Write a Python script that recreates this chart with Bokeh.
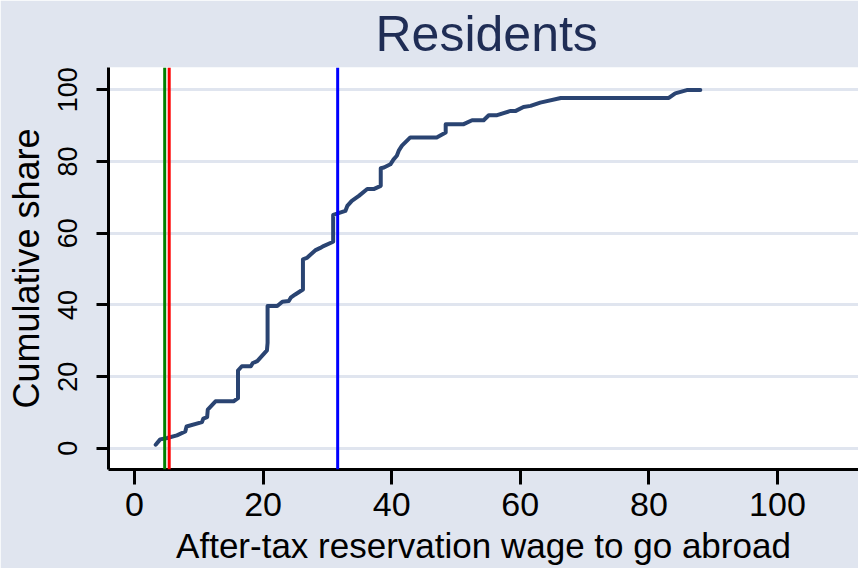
from bokeh.plotting import figure
from bokeh.models import Range1d, FixedTicker, Span, Title
from bokeh.embed import file_html
from bokeh.resources import INLINE

# Cumulative distribution
wage = [3.3, 4.0, 5.1, 6.6, 7.9, 8.1, 10.5, 10.7, 11.3, 11.4, 12.6, 15.4, 16.1, 16.1,
        16.7, 18.1, 18.4, 19.1, 20.6, 20.7, 20.7, 22.2, 23.0, 24.0, 24.3, 25.0, 26.2,
        26.2, 26.8, 28.1, 28.9, 29.4, 30.9, 30.9, 32.8, 33.1, 33.8, 34.9, 36.2, 37.2,
        38.3, 38.3, 38.8, 39.8, 40.3, 40.8, 41.1, 41.6, 42.9, 47.0, 48.4, 48.4, 51.2,
        52.5, 54.3, 55.1, 56.4, 58.5, 59.3, 60.5, 61.6, 63.1, 66.3, 83.1, 84.1, 85.9, 88.0]
share = [1.0, 2.5, 2.9, 3.6, 4.7, 6.1, 7.3, 8.3, 8.7, 10.8, 13.1, 13.1, 14.0, 21.7,
         22.9, 22.9, 23.8, 24.3, 27.3, 29.4, 39.7, 39.7, 40.9, 41.1, 42.0, 42.9, 44.3,
         52.7, 53.1, 55.2, 55.9, 56.4, 57.6, 65.1, 66.2, 67.6, 69.0, 70.4, 72.3, 72.3,
         73.2, 78.1, 78.3, 79.2, 80.6, 81.6, 83.0, 84.4, 86.7, 86.7, 88.1, 90.4, 90.4,
         91.5, 91.5, 92.9, 92.9, 94.1, 94.1, 95.2, 95.5, 96.4, 97.7, 97.7, 99.0, 99.9, 99.9]

ref_values = [4.7, 5.4, 31.6]
ref_colors = ["#008000", "#ff0000", "#0000ff"]

x_ticks = [0, 20, 40, 60, 80, 100]
y_ticks = [0, 20, 40, 60, 80, 100]

BG = "#e0e5ef"
FONT = "Liberation Sans"

p = figure(width=858, height=568, output_backend="svg", toolbar_location=None,
           x_range=Range1d(-4.04, 112.6), y_range=Range1d(-5.9, 106.2),
           min_border_left=108, min_border_right=0, min_border_top=67, min_border_bottom=99)

p.background_fill_color = "white"
p.border_fill_color = BG
p.outline_line_color = None

p.add_layout(Title(text="Residents", align="left", vertical_align="top", text_font=FONT,
                   text_font_size="50px", text_font_style="normal", text_color="#1f2d55",
                   standoff=8, offset=267), "above")

for v, c in zip(ref_values, ref_colors):
    p.add_layout(Span(location=v, dimension="height", line_color=c, line_width=3))

p.line(wage, share, line_color="#2a4472", line_width=4, line_join="round", line_cap="round")

p.xgrid.visible = False
p.ygrid.ticker = FixedTicker(ticks=y_ticks)
p.ygrid.grid_line_color = BG
p.ygrid.grid_line_width = 3

for ax in (p.xaxis[0], p.yaxis[0]):
    ax.axis_line_color = "black"
    ax.axis_line_width = 3
    ax.major_tick_line_color = "black"
    ax.major_tick_line_width = 3
    ax.major_tick_in = 0
    ax.minor_tick_line_color = None
    ax.major_label_text_font = FONT
    ax.axis_label_text_font = FONT
    ax.axis_label_text_font_style = "normal"
    ax.major_label_text_color = "black"
    ax.axis_label_text_color = "black"

p.xaxis.ticker = FixedTicker(ticks=x_ticks)
p.xaxis.major_tick_out = 15
p.xaxis.major_label_text_font_size = "34px"
p.xaxis.major_label_standoff = 8
p.xaxis.axis_label = "After-tax reservation wage to go abroad"
p.xaxis.axis_label_text_font_size = "35px"
p.xaxis.axis_label_standoff = 7

p.yaxis.ticker = FixedTicker(ticks=y_ticks)
p.yaxis.major_tick_out = 12
p.yaxis.major_label_orientation = "vertical"
p.yaxis.major_label_text_font_size = "27px"
p.yaxis.major_label_standoff = 19
p.yaxis.axis_label = "Cumulative share"
p.yaxis.axis_label_text_font_size = "36px"
p.yaxis.axis_label_standoff = 9

open("out.html", "w").write(file_html(p, INLINE))
